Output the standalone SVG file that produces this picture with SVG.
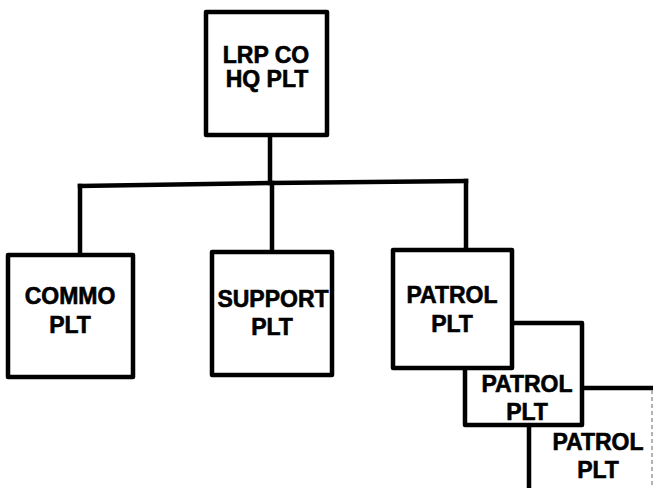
<svg xmlns="http://www.w3.org/2000/svg" width="653" height="488" viewBox="0 0 653 488">
<style>
.box{fill:#fff;stroke:#000;stroke-width:4.5;stroke-linejoin:round}
.edge{fill:none;stroke:#000;stroke-width:4.5;stroke-linecap:square;stroke-linejoin:round}
.lbl{font-family:"Liberation Sans",Arial,Helvetica,sans-serif;font-weight:bold;font-size:23px;fill:#000;stroke:#000;stroke-width:0.6;text-anchor:middle}
</style>
<rect width="653" height="488" fill="#fff"/>
<g id="connectors">
<line class="edge" x1="270" y1="135" x2="270" y2="183"/>
<polyline class="edge" points="80,186 270,183 466,181"/>
<line class="edge" x1="80" y1="186" x2="80" y2="255"/>
<line class="edge" x1="272" y1="183" x2="272" y2="252"/>
<line class="edge" x1="466" y1="181" x2="466" y2="250"/>
</g>
<g id="hq">
<rect class="box" x="206" y="12" width="121" height="123"/>
<text class="lbl" x="266" y="63">LRP CO</text>
<text class="lbl" x="267" y="87">HQ PLT</text>
</g>
<g id="commo">
<rect class="box" x="8" y="255" width="125" height="122"/>
<text class="lbl" x="70" y="304">COMMO</text>
<text class="lbl" x="70" y="333">PLT</text>
</g>
<g id="support">
<rect class="box" x="212" y="252" width="120" height="123"/>
<text class="lbl" x="273" y="307">SUPPORT</text>
<text class="lbl" x="272" y="335">PLT</text>
</g>
<g id="patrol3">
<path class="edge" d="M529,488 V425 M582,388 H652"/>
<line x1="652" y1="390" x2="652" y2="488" stroke="#999" stroke-width="1.5" stroke-dasharray="4 3"/>
<text class="lbl" x="598" y="450">PATROL</text>
<text class="lbl" x="598" y="478">PLT</text>
</g>
<g id="patrol2">
<rect class="box" x="465" y="323" width="117" height="102"/>
<text class="lbl" x="527" y="392">PATROL</text>
<text class="lbl" x="527" y="420">PLT</text>
</g>
<g id="patrol1">
<rect class="box" x="393" y="250" width="119" height="118"/>
<text class="lbl" x="452" y="303">PATROL</text>
<text class="lbl" x="452" y="332">PLT</text>
</g>
</svg>
